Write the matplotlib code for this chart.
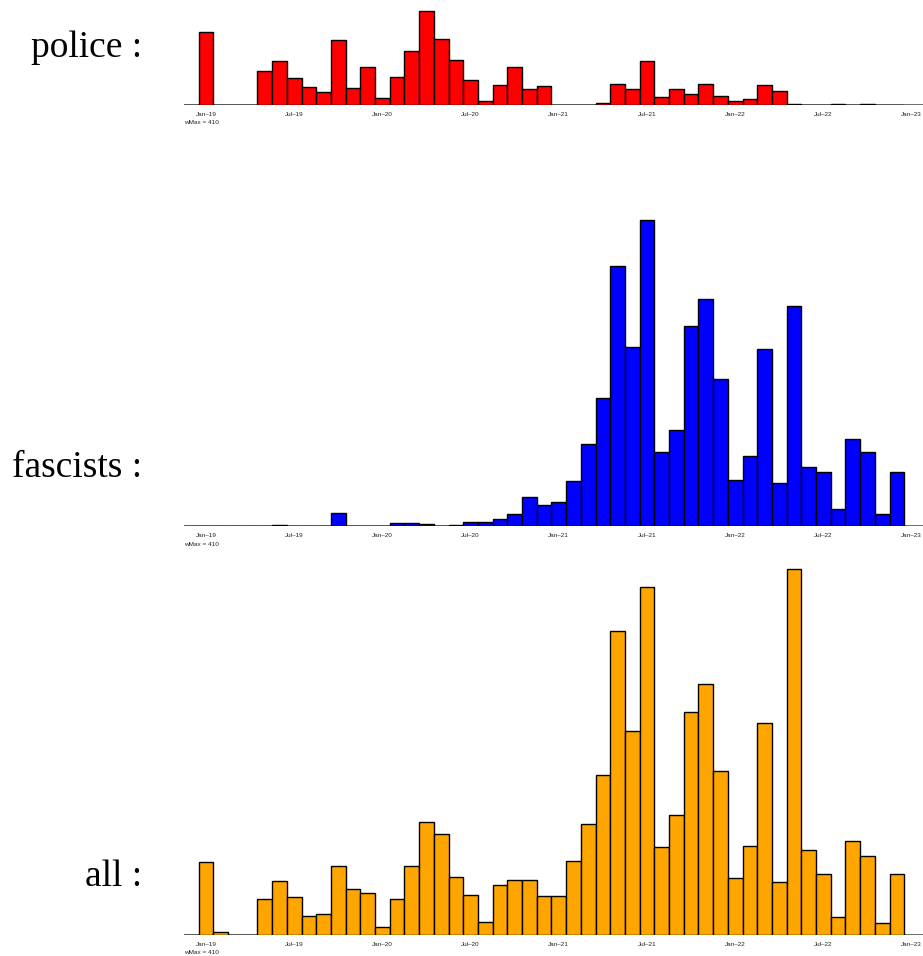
import matplotlib
matplotlib.use("Agg")
import matplotlib.pyplot as plt
import numpy as np

# months from Dec-2018 (index -1) to Dec-2022 (index 47)
months = ["Dec-18",
          "Jan-19", "Feb-19", "Mar-19", "Apr-19", "May-19", "Jun-19", "Jul-19", "Aug-19", "Sep-19", "Oct-19", "Nov-19", "Dec-19",
          "Jan-20", "Feb-20", "Mar-20", "Apr-20", "May-20", "Jun-20", "Jul-20", "Aug-20", "Sep-20", "Oct-20", "Nov-20", "Dec-20",
          "Jan-21", "Feb-21", "Mar-21", "Apr-21", "May-21", "Jun-21", "Jul-21", "Aug-21", "Sep-21", "Oct-21", "Nov-21", "Dec-21",
          "Jan-22", "Feb-22", "Mar-22", "Apr-22", "May-22", "Jun-22", "Jul-22", "Aug-22", "Sep-22", "Oct-22", "Nov-22", "Dec-22"]

police = [0,
          82, 0, 0, 0, 38, 49, 30, 20, 15, 73, 19, 43,
          8, 31, 61, 105, 74, 50, 28, 4, 22, 43, 18, 21,
          0, 0, 0, 2, 23, 18, 49, 9, 18, 12, 23, 10,
          4, 7, 22, 16, 1, 0, 0, 1, 0, 1, 0, 0]

fascists = [0,
            0, 0, 0, 0, 0, 1, 0, 0, 0, 15, 0, 0,
            0, 3, 3, 2, 0, 1, 4, 4, 8, 14, 32, 24,
            27, 51, 92, 143, 291, 201, 343, 83, 108, 224, 255, 165,
            52, 78, 198, 48, 247, 66, 61, 19, 98, 83, 13, 61]

all_events = [0,
              82, 3, 0, 0, 40, 61, 43, 21, 23, 77, 52, 47,
              9, 40, 77, 127, 113, 65, 45, 15, 56, 62, 62, 44,
              44, 83, 125, 179, 341, 229, 390, 99, 135, 250, 281, 184,
              64, 100, 238, 59, 410, 95, 68, 20, 105, 89, 14, 68]

tick_pos = [1, 7, 13, 19, 25, 31, 37, 43, 49]
tick_labels = ["Jan\u201319", "Jul\u201319", "Jan\u201320", "Jul\u201320", "Jan\u201321",
               "Jul\u201321", "Jan\u201322", "Jul\u201322", "Jan\u201323"]

panel_names = ["police :", "fascists :", "all :"]
panel_values = [police, fascists, all_events]
panel_colors = ["#ff0000", "#0000ff", "#ffa500"]
wmax = max(max(police), max(fascists), max(all_events))

W, H = 923, 956
fig = plt.figure(figsize=(W / 100, H / 100), dpi=100)

px_per_unit = 365.7 / 410.0
px_per_month = 14.70
x0_px = 206 - px_per_month  # position of index 0 (Dec-18) centre
# layout: (baseline px from top, panel height px, label baseline px)
layout = [(105, 105, 57), (526, 390, 477), (935, 400, 886)]

x = np.arange(len(months))
left_lim = -0.5
left_px = x0_px - 0.5 * px_per_month
right_lim = left_lim + (W - left_px) / px_per_month

for (base, hpx, ly), name, vals, col in zip(layout, panel_names, panel_values, panel_colors):
    ax = fig.add_axes([left_px / W, 1 - base / H, (W - left_px) / W, hpx / H])
    ax.bar(x, vals, width=1.0, color=col, edgecolor="black", linewidth=1.0, zorder=3)
    ax.axhline(0, color="#555555", linewidth=1.2, zorder=2)
    ax.set_xlim(left_lim, right_lim)
    ax.set_ylim(0, hpx / px_per_unit)
    ax.set_xticks(tick_pos)
    ax.set_xticklabels(tick_labels, fontsize=4.6, color="#222222", family="Liberation Sans")
    ax.tick_params(axis="x", length=0, pad=5)
    ax.set_yticks([])
    for s in ax.spines.values():
        s.set_visible(False)
    ax.patch.set_alpha(0)
    fig.text(left_px / W, 1 - (base + 18) / H, "wMax = %d" % wmax, fontsize=4.6,
             color="#222222", family="Liberation Sans", ha="left", va="center")
    fig.text(142 / W, 1 - ly / H, name, fontsize=27, family="Liberation Serif",
             ha="right", va="baseline")

fig.savefig("out.png", dpi=100)
